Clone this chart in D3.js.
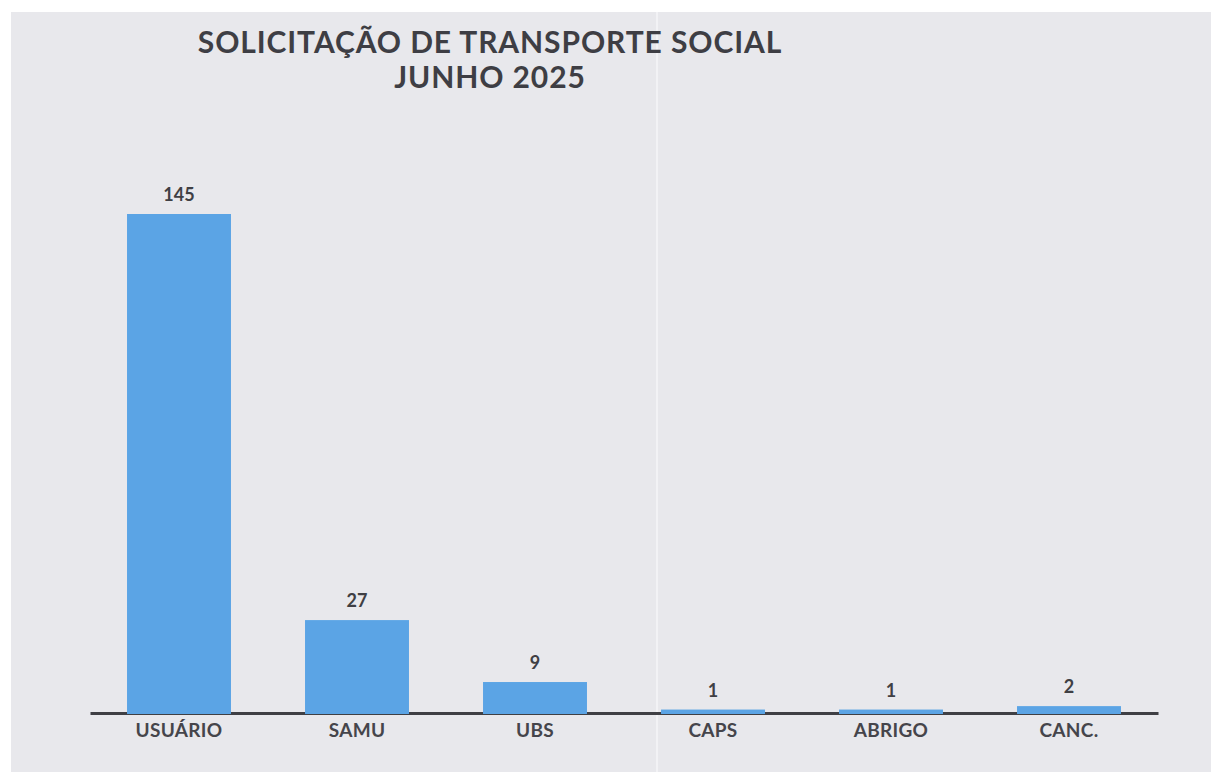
<!DOCTYPE html>
<html>
<head>
<meta charset="utf-8">
<script src="https://cdn.jsdelivr.net/npm/d3@7"></script>
<style>
  html, body { margin: 0; padding: 0; background: #ffffff; }
  svg { display: block; }
</style>
</head>
<body>
<svg id="chart" width="1211" height="772"></svg>
<script>
const categories = ["USUÁRIO", "SAMU", "UBS", "CAPS", "ABRIGO", "CANC."];
const values = [145, 27, 9, 1, 1, 2];
const titleLines = ["SOLICITAÇÃO DE TRANSPORTE SOCIAL", "JUNHO 2025"];

const W = 1211, H = 772;
const svg = d3.select("#chart");

// paper background
svg.append("rect").attr("x", 0).attr("y", 0).attr("width", W).attr("height", H).attr("fill", "#ffffff");
svg.append("rect").attr("x", 11).attr("y", 12).attr("width", W - 11).attr("height", H - 12).attr("fill", "#e8e8ec");
// faint fold line
svg.append("line").attr("x1", 657).attr("x2", 657).attr("y1", 12).attr("y2", H)
  .attr("stroke", "#f2f2f5").attr("stroke-width", 2);

const baseY = 713;
const x = d3.scaleBand().domain(categories).range([90, 1158]).paddingInner(0.416).paddingOuter(0.208);
const y = d3.scaleLinear().domain([0, 160]).range([baseY, baseY - 160 * 499 / 145]);

// axis baseline
const axis = svg.append("g").attr("transform", `translate(0,${baseY})`)
  .call(d3.axisBottom(x).tickSize(0).tickPadding(11).tickSizeOuter(0));
axis.select(".domain").attr("stroke", "#3f3f44").attr("stroke-width", 3);
axis.selectAll(".tick text")
  .attr("font-family", "Lato, 'Open Sans', sans-serif")
  .attr("font-weight", 700)
  .attr("font-size", 19)
  .attr("letter-spacing", 0.3)
  .attr("fill", "#45454b");

// bars
svg.append("g").selectAll("rect").data(values).join("rect")
  .attr("x", (d, i) => x(categories[i]))
  .attr("width", x.bandwidth())
  .attr("y", d => y(d))
  .attr("height", d => baseY + 1 - y(d))
  .attr("fill", "#5ba4e5");

// value labels
svg.append("g").selectAll("text").data(values).join("text")
  .attr("x", (d, i) => x(categories[i]) + x.bandwidth() / 2)
  .attr("y", d => y(d) - 13)
  .attr("text-anchor", "middle")
  .attr("font-family", "Lato, 'Open Sans', sans-serif")
  .attr("font-weight", 700)
  .attr("font-size", 18)
  .attr("fill", "#3f3f44")
  .text(d => d);

// title
svg.append("g").selectAll("text").data(titleLines).join("text")
  .attr("x", 490)
  .attr("y", (d, i) => 53 + i * 35)
  .attr("text-anchor", "middle")
  .attr("font-family", "Lato, 'Open Sans', sans-serif")
  .attr("font-weight", 700)
  .attr("font-size", 30)
  .attr("letter-spacing", 0.9)
  .attr("fill", "#3e3e44")
  .text(d => d);
</script>
</body>
</html>
